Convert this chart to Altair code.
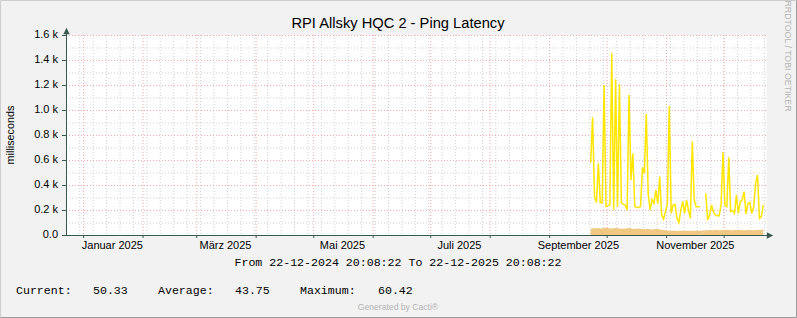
import altair as alt
import pandas as pd

# ---------------------------------------------------------------- texts
TITLE = "RPI Allsky HQC 2 - Ping Latency"
Y_TITLE = "milliseconds"
RANGE_TEXT = "From 22-12-2024 20:08:22 To 22-12-2025 20:08:22"
FOOTER = "Generated by Cacti®"
WATERMARK = "RRDTOOL / TOBI OETIKER"

# ---------------------------------------------------------------- data
FIRST_SAMPLE = "2025-09-22 10:00:00"  # one consolidated sample per day

# daily peak ping time (ms); None = no data for that day
latency_peak = [578, 941, 307, 259, 573, 259, 259, 1200, 227, 235,
                240, 1453, 200, 1245, 227, 1205, 259, 245, 240, 200,
                1120, 440, 653, 227, 220, 220, 227, 541, 493, 968,
                328, 200, 285, 253, 360, 250, 467, 160, 128, 187,
                250, 1032, 173, 240, 245, 133, 99, 200, 269, 173,
                280, 200, 133, 747, 280, 227, 227, 227, None, None,
                333, 120, 160, 240, 187, 160, 155, 155, 240, 661,
                240, 227, 621, 187, 195, 173, 320, 173, 267, 280,
                347, 168, 253, 261, 173, 227, 413, 480, 133, 147, 240]

# daily average ping time (ms)
latency_avg = [51, 54, 53, 56, 55, 54, 52, 57, 60.42, 56,
               53, 52, 54, 57, 55, 53, 51, 50, 52, 54,
               56, 53, 51, 49, 50, 52, 50, 48, 47, 49,
               48, 46, 45, 47, 50, 48, 44, 42, 40, 38,
               37, 35, 34, 35, 34, 33, 34, 35, 34, 33,
               34, 35, 34, 33, 35, 35, 34, 35, None, None,
               38, 39, 40, 38, 39, 41, 40, 39, 38, 40,
               41, 42, 40, 39, 38, 40, 41, 42, 40, 39,
               38, 39, 41, 40, 39, 38, 40, 41, 42, 40, 50.33]

legend_names = ["Current:", "Average:", "Maximum:"]
legend_values = ["50.33", "43.75", "60.42"]

month_label_text = ["Januar 2025", "März 2025", "Mai 2025",
                    "Juli 2025", "September 2025", "November 2025"]
month_label_time = ["2025-01-16", "2025-03-16", "2025-05-16",
                    "2025-07-16", "2025-09-16", "2025-11-16"]
month_starts = ["2025-01-01", "2025-02-01", "2025-03-01", "2025-04-01",
                "2025-05-01", "2025-06-01", "2025-07-01", "2025-08-01",
                "2025-09-01", "2025-10-01", "2025-11-01", "2025-12-01"]

y_tick_values = [0, 200, 400, 600, 800, 1000, 1200, 1400, 1600]
y_tick_labels = ["0.0", "0.2 k", "0.4 k", "0.6 k", "0.8 k",
                 "1.0 k", "1.2 k", "1.4 k", "1.6 k"]
y_minor_values = [100, 300, 500, 700, 900, 1100, 1300, 1500]

# ---------------------------------------------------------------- layout / style
W, H = 700, 200
PAD = {"left": 66, "top": 35, "right": 31, "bottom": 83}
BG = "#F2F2F2"
AXIS_COL = "#3A5A50"
MGRID_COL = "#F0ABAB"
GRID_COL = "#CFCFCF"
PEAK_COL = "#FFE600"
AVG_COL = "#F0C882"
SANS = "Liberation Sans"
MONO = "Liberation Mono"


def iso(s):
    return pd.Timestamp(s).strftime("%Y-%m-%dT%H:%M:%SZ")


T0 = alt.DateTime(year=2024, month=12, date=22, hours=20, minutes=8, seconds=22, utc=True)
T1 = alt.DateTime(year=2025, month=12, date=22, hours=20, minutes=8, seconds=22, utc=True)


def X(field):
    return alt.X(f"{field}:T", scale=alt.Scale(type="utc", domain=[T0, T1]), axis=None)


def Y(field):
    return alt.Y(f"{field}:Q", scale=alt.Scale(domain=[0, 1600]), axis=None)


def one_row():
    return pd.DataFrame({"k": [0]})


# series table, split into segments at the data gap
days = pd.date_range(FIRST_SAMPLE, periods=len(latency_peak), freq="D")
rows = []
seg = 0
for d, p, a in zip(days, latency_peak, latency_avg):
    if p is None:
        seg = 1
        continue
    rows.append({"t": d.strftime("%Y-%m-%dT%H:%M:%SZ"), "peak": p, "avg": a, "seg": seg})
series = pd.DataFrame(rows)

weeks = pd.date_range("2024-12-23", "2025-12-22", freq="W-MON")
week_df = pd.DataFrame({"t": [d.strftime("%Y-%m-%dT%H:%M:%SZ") for d in weeks]})
month_df = pd.DataFrame({"t": [iso(m) for m in month_starts]})
mlabel_df = pd.DataFrame({"t": [iso(m) for m in month_label_time], "label": month_label_text})
ymaj_df = pd.DataFrame({"v": y_tick_values, "label": y_tick_labels})
ymin_df = pd.DataFrame({"v": y_minor_values})

# ---------------------------------------------------------------- grid (dotted, like rrdtool)
week_grid = alt.Chart(week_df).mark_rule(color=GRID_COL, strokeDash=[1, 2], strokeWidth=1).encode(
    x=X("t"), y=alt.value(0), y2=alt.value(H))
minor_hgrid = alt.Chart(ymin_df).mark_rule(color=GRID_COL, strokeDash=[1, 2], strokeWidth=1, yOffset=0.5).encode(
    y=Y("v"), x=alt.value(0), x2=alt.value(W))
month_grid = alt.Chart(month_df).mark_rule(color=MGRID_COL, strokeDash=[1, 2], strokeWidth=1).encode(
    x=X("t"), y=alt.value(0), y2=alt.value(H))
major_hgrid = alt.Chart(ymaj_df[ymaj_df.v > 0]).mark_rule(
    color=MGRID_COL, strokeDash=[1, 2], strokeWidth=1, yOffset=0.5).encode(
    y=Y("v"), x=alt.value(0), x2=alt.value(W))

# ---------------------------------------------------------------- series
avg_area = alt.Chart(series).mark_area(color=AVG_COL, opacity=1).encode(
    x=X("t"), y=Y("avg"), detail="seg:N")
peak_line = alt.Chart(series).mark_line(color=PEAK_COL, strokeWidth=1.5).encode(
    x=X("t"), y=Y("peak"), detail="seg:N")

# ---------------------------------------------------------------- axes
y_axis = alt.Chart(one_row()).mark_rule(color=AXIS_COL, strokeWidth=1, xOffset=0.5).encode(
    x=alt.value(0), y=alt.value(-2), y2=alt.value(H))
x_axis = alt.Chart(one_row()).mark_rule(color=AXIS_COL, strokeWidth=1, yOffset=0.5).encode(
    x=alt.value(-3), x2=alt.value(W + 2), y=alt.value(H))
y_ticks = alt.Chart(ymaj_df).mark_rule(color=AXIS_COL, strokeWidth=1, yOffset=0.5).encode(
    y=Y("v"), x=alt.value(-4), x2=alt.value(0))
x_ticks = alt.Chart(month_df).mark_rule(color=AXIS_COL, strokeWidth=1).encode(
    x=X("t"), y=alt.value(H), y2=alt.value(H + 3))
arrow_path = "M-1,1L1,1L0,-1Z"
y_arrow = alt.Chart(one_row()).mark_point(shape=arrow_path, size=40, filled=True, color=AXIS_COL, opacity=1).encode(
    x=alt.value(0.5), y=alt.value(-4))
x_arrow = alt.Chart(one_row()).mark_point(shape=arrow_path, size=40, filled=True, color=AXIS_COL, opacity=1,
                                          angle=90).encode(
    x=alt.value(W + 4), y=alt.value(H + 0.5))

# ---------------------------------------------------------------- labels
y_labels = alt.Chart(ymaj_df).mark_text(font=SANS, fontSize=11, align="right", baseline="middle",
                                        color="#000000").encode(
    y=Y("v"), x=alt.value(-8), text="label:N")
x_labels = alt.Chart(mlabel_df).mark_text(font=SANS, fontSize=11, align="center", baseline="alphabetic",
                                          color="#000000").encode(
    x=X("t"), y=alt.value(H + 14), text="label:N")


def text_at(txt, x, y, **kw):
    return alt.Chart(pd.DataFrame({"s": [txt]})).mark_text(**kw).encode(
        x=alt.value(x), y=alt.value(y), text="s:N")


title = text_at(TITLE, 332, -7, font=SANS, fontSize=14.7, align="center", baseline="alphabetic", color="#000000")
y_title = text_at(Y_TITLE, -55.5, 100, font=SANS, fontSize=10.8, angle=270, align="center",
                  baseline="middle", color="#000000")
range_text = text_at(RANGE_TEXT, 332, 231, font=MONO, fontSize=11.6, align="center",
                     baseline="alphabetic", color="#000000")
footer = text_at(FOOTER, 332, 275, font=SANS, fontSize=8.6, align="center", baseline="alphabetic",
                 color="#B4B4B4")
watermark = text_at(WATERMARK, 722, 21, font=SANS, fontSize=8.8, angle=90, align="center",
                    baseline="middle", color="#B4B4B4")

legend_x_names = [-50, 92, 234]
legend_x_values = [27, 169, 312]
legend_layers = []
for name, val, xn, xv in zip(legend_names, legend_values, legend_x_names, legend_x_values):
    legend_layers.append(text_at(name, xn, 259, font=MONO, fontSize=11.6, align="left",
                                 baseline="alphabetic", color="#000000"))
    legend_layers.append(text_at(val, xv, 259, font=MONO, fontSize=11.6, align="left",
                                 baseline="alphabetic", color="#000000"))

# ---------------------------------------------------------------- image frame
frame_light = alt.Chart(one_row()).mark_rule(color="#CDCDCD", strokeWidth=1).encode(
    x=alt.value(-65.5), x2=alt.value(730.5), y=alt.value(-34.5))
frame_light2 = alt.Chart(one_row()).mark_rule(color="#CDCDCD", strokeWidth=1).encode(
    x=alt.value(-65.5), y=alt.value(-34.5), y2=alt.value(282.5))
frame_dark = alt.Chart(one_row()).mark_rule(color="#9C9C9C", strokeWidth=1).encode(
    x=alt.value(-65.5), x2=alt.value(730.5), y=alt.value(282.5))
frame_dark2 = alt.Chart(one_row()).mark_rule(color="#9C9C9C", strokeWidth=1).encode(
    x=alt.value(730.5), y=alt.value(-34.5), y2=alt.value(282.5))

chart = alt.layer(
    week_grid, minor_hgrid, month_grid, major_hgrid,
    avg_area, peak_line,
    y_axis, x_axis, y_ticks, x_ticks, y_arrow, x_arrow,
    y_labels, x_labels, title, y_title, range_text, footer, watermark,
    *legend_layers,
    frame_light, frame_light2, frame_dark, frame_dark2,
).properties(
    width=W, height=H, padding=PAD, autosize="none", background=BG,
).configure_view(stroke="transparent", fill="#FFFFFF")

chart.save("out.html", embed_options={"renderer": "svg", "actions": False})
